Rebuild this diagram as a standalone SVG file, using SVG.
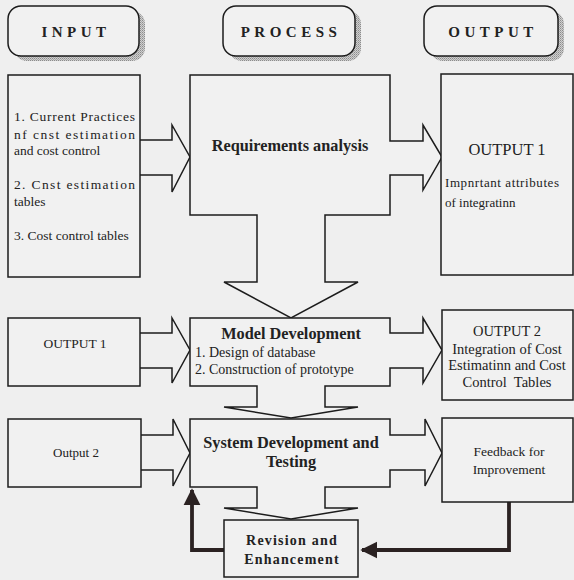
<svg xmlns="http://www.w3.org/2000/svg" width="574" height="580" viewBox="0 0 574 580">
<defs>
<pattern id="stip" width="2" height="2" patternUnits="userSpaceOnUse"><rect width="2" height="2" fill="#cfcfcf"/><rect width="1" height="1" fill="#8c8c8c"/><rect x="1" y="1" width="1" height="1" fill="#a8a8a8"/></pattern>
<marker id="ah" viewBox="0 0 10 10" refX="9" refY="5" markerWidth="4.5" markerHeight="4.5" orient="auto" markerUnits="strokeWidth"><path d="M0,0 L10,5 L0,10 Z" fill="#2b2222"/></marker>
</defs>
<style>
.bg{fill:#efefef}
.ln{fill:none;stroke:#1c1c1c;stroke-width:1.5;stroke-linejoin:miter}
.bx{fill:#f1f1f1;stroke:#1c1c1c;stroke-width:1.5}
.pill{fill:#f1f1f1;stroke:#1c1c1c;stroke-width:1.5}
.sh{fill:url(#stip)}
.hd{font-family:"Liberation Serif",serif;font-size:15px;font-weight:bold;letter-spacing:4.5px;fill:#222;text-anchor:middle}
.t{font-family:"Liberation Serif",serif;font-size:13.5px;fill:#222}
.m{font-family:"Liberation Serif",serif;font-size:13.5px;fill:#222;text-anchor:middle}
.b{font-family:"Liberation Serif",serif;font-size:16.3px;font-weight:bold;fill:#222;text-anchor:middle}
.thick{fill:none;stroke:#2b2222;stroke-width:3.8;marker-end:url(#ah)}
</style>
<rect class="bg" x="0" y="0" width="574" height="580"/>

<g id="hdr-input">
<rect class="sh" x="14" y="11" width="131" height="50" rx="13"/>
<rect class="pill" x="8" y="6" width="131" height="50" rx="13"/>
<text class="hd" x="76" y="37">INPUT</text>
</g>
<g id="hdr-process">
<rect class="sh" x="229" y="11" width="132" height="50" rx="13"/>
<rect class="pill" x="223" y="6" width="132" height="50" rx="13"/>
<text class="hd" x="291" y="37">PROCESS</text>
</g>
<g id="hdr-output">
<rect class="sh" x="430" y="11" width="134" height="50" rx="13"/>
<rect class="pill" x="424" y="6" width="134" height="50" rx="13"/>
<text class="hd" x="493" y="37">OUTPUT</text>
</g>

<g id="connectors">
<polyline class="ln" points="140,140 172,140 172,125 190,157 172,192 172,175 140,175"/>
<polyline class="ln" points="140,333 172,333 172,318 190,350 172,383 172,368 140,368"/>
<polyline class="ln" points="141,435 173,435 173,419 190,453 173,486 173,470 141,470"/>
<path class="thick" d="M224,550 H192 V490"/>
<path class="thick" d="M509,502 V550 H362"/>
</g>

<g id="input1">
<rect class="bx" x="8" y="75" width="132" height="202"/>
<text class="t" x="14" y="121" textLength="121" lengthAdjust="spacing">1. Current Practices</text>
<text class="t" x="14" y="139" textLength="121" lengthAdjust="spacing">nf cnst estimation</text>
<text class="t" x="14" y="155">and cost control</text>
<text class="t" x="14" y="189" textLength="121" lengthAdjust="spacing">2. Cnst estimation</text>
<text class="t" x="14" y="206">tables</text>
<text class="t" x="14" y="240">3. Cost control tables</text>
</g>

<g id="requirements">
<path class="bx" d="M190,75 H390 V141 H423 V125 L442,157 L423,190 V175 H390 V215 H325 V282 H358 L291,318 L224,282 H257 V215 H190 Z"/>
<text class="b" x="290" y="151">Requirements analysis</text>
</g>

<g id="output1">
<rect class="bx" x="441" y="74" width="132" height="201"/>
<text x="507" y="155" style="font-family:'Liberation Serif',serif;font-size:16.5px;fill:#222;text-anchor:middle">OUTPUT 1</text>
<text class="t" x="445" y="187" style="font-size:13px" textLength="114" lengthAdjust="spacing">Impnrtant attributes</text>
<text class="t" x="445" y="207" style="font-size:13px">of integratinn</text>
</g>

<g id="input2">
<rect class="bx" x="8" y="318" width="132" height="68"/>
<text class="m" x="75" y="348">OUTPUT 1</text>
</g>

<g id="model">
<path class="bx" d="M190,318 H390 V333 H423 V318 L442,350 L423,383 V368 H390 V386 H325 V407 H358 L291,418 L224,407 H257 V386 H190 Z"/>
<text class="b" x="291" y="339">Model Development</text>
<text class="t" x="195" y="357" style="font-size:14px">1. Design of database</text>
<text class="t" x="195" y="374" style="font-size:14px">2. Construction of prototype</text>
</g>

<g id="output2">
<rect class="bx" x="442" y="310" width="131" height="90"/>
<text class="m" x="507" y="336" style="font-size:14.5px">OUTPUT 2</text>
<text class="m" x="507" y="354" style="font-size:14.5px">Integration of Cost</text>
<text class="m" x="507" y="370" style="font-size:14.5px">Estimatinn and Cost</text>
<text class="m" x="507" y="387" style="font-size:14.5px" xml:space="preserve">Control  Tables</text>
</g>

<g id="input3">
<rect class="bx" x="8" y="419" width="133" height="68"/>
<text class="m" x="76" y="457" style="font-size:13px">Output 2</text>
</g>

<g id="system">
<path class="bx" d="M190,419 H390 V435 H425 V419 L442,453 L425,486 V470 H390 V487 H325 V508 H358 L291,519 L224,508 H257 V487 H190 Z"/>
<text class="b" x="291" y="448">System Development and</text>
<text class="b" x="291" y="467">Testing</text>
</g>

<g id="feedback">
<rect class="bx" x="442" y="418" width="131" height="84"/>
<text class="m" x="509" y="456">Feedback for</text>
<text class="m" x="509" y="474">Improvement</text>
</g>

<g id="revision">
<rect class="bx" x="224" y="520" width="134" height="57"/>
<text class="b" x="292" y="545" style="font-size:14px;letter-spacing:1.2px">Revision and</text>
<text class="b" x="292" y="564" style="font-size:14px;letter-spacing:1.2px">Enhancement</text>
</g>
</svg>
